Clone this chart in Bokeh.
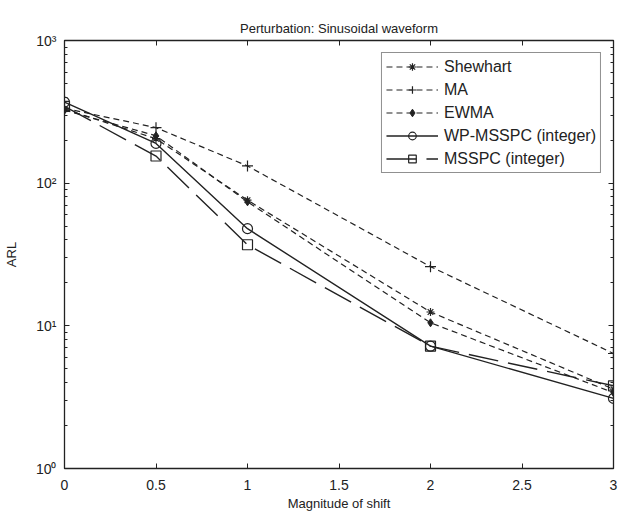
from bokeh.plotting import figure
from bokeh.models import (FixedTicker, LinearAxis, LogAxis, Legend, LegendItem,
                          CustomJSTickFormatter, Range1d)
from bokeh.embed import file_html
from bokeh.resources import INLINE

# ---- data ----
shift = [0, 0.5, 1, 2, 3]
shewhart = [330, 205, 76, 12.5, 3.6]
ma = [335, 245, 132, 26, 6.4]
ewma = [325, 215, 74, 10.5, 3.4]
wp_msspc = [370, 190, 48, 7.2, 3.1]
msspc = [345, 155, 37, 7.2, 3.8]

x_ticks = [0, 0.5, 1, 1.5, 2, 2.5, 3]
y_ticks = [1, 10, 100, 1000]
y_tick_labels = {1: "10\u2070", 10: "10\u00b9", 100: "10\u00b2", 1000: "10\u00b3"}

FONT = "Liberation Sans"
C = "#222222"

p = figure(width=619, height=513, y_axis_type="log",
           x_range=Range1d(0, 3), y_range=Range1d(1, 1000),
           output_backend="svg", toolbar_location=None,
           title="Perturbation: Sinusoidal waveform",
           min_border_left=64, min_border_right=6,
           min_border_top=40, min_border_bottom=43)

p.title.align = "center"
p.title.text_font = FONT
p.title.text_font_size = "13px"
p.title.text_font_style = "normal"
p.title.text_color = C

p.background_fill_color = "white"
p.border_fill_color = "white"
p.outline_line_color = C
p.outline_line_width = 1.3
p.grid.visible = False

minor = [m * 10 ** k for k in range(0, 3) for m in range(2, 10)]

xa = p.xaxis[0]
xa.ticker = FixedTicker(ticks=x_ticks)
xa.formatter = CustomJSTickFormatter(code="return tick.toString();")
xa.axis_label = "Magnitude of shift"

ya = p.yaxis[0]
ya.ticker = FixedTicker(ticks=y_ticks, minor_ticks=minor)
ya.major_label_overrides = y_tick_labels
ya.axis_label = "ARL"

for ax in [xa, ya]:
    ax.axis_label_text_font = FONT
    ax.axis_label_text_font_size = "13px"
    ax.axis_label_text_font_style = "normal"
    ax.major_label_text_font = FONT
    ax.major_label_text_font_size = "14px"
    ax.major_tick_in = 5
    ax.major_tick_out = 0
    ax.minor_tick_in = 3
    ax.minor_tick_out = 0
    ax.axis_line_color = C
    ax.major_tick_line_color = C
    ax.minor_tick_line_color = C
    ax.major_label_text_color = C
    ax.axis_label_text_color = C
xa.major_label_standoff = 11
xa.axis_label_standoff = 3
ya.major_label_standoff = 8
ya.axis_label_standoff = 14

# mirrored axes (box with ticks), labels invisible
top = LinearAxis(ticker=FixedTicker(ticks=x_ticks),
                 major_label_text_alpha=0, major_label_text_font_size="6px",
                 major_label_standoff=0,
                 major_tick_in=5, major_tick_out=0, minor_tick_in=0, minor_tick_out=0,
                 axis_line_color=C, major_tick_line_color=C)
right = LogAxis(ticker=FixedTicker(ticks=y_ticks, minor_ticks=minor),
                major_label_text_alpha=0, major_label_text_font_size="6px",
                major_label_standoff=0,
                major_tick_in=5, major_tick_out=0, minor_tick_in=3, minor_tick_out=0,
                axis_line_color=C, major_tick_line_color=C,
                minor_tick_line_color=C)
p.add_layout(top, "above")
p.add_layout(right, "right")

items = []

l1 = p.line(shift, shewhart, line_color=C, line_width=1.2, line_dash="6 4")
m1 = p.scatter(shift, shewhart, marker="asterisk", size=8, line_color=C, line_width=1.2)
items.append(LegendItem(label="Shewhart", renderers=[l1, m1]))

l2 = p.line(shift, ma, line_color=C, line_width=1.2, line_dash="6 4")
m2 = p.scatter(shift, ma, marker="cross", size=11, line_color=C, line_width=1.2)
items.append(LegendItem(label="MA", renderers=[l2, m2]))

l3 = p.line(shift, ewma, line_color=C, line_width=1.2, line_dash="6 4")
m3 = p.scatter(shift, ewma, marker="diamond", size=8, fill_color=C, line_color=C)
items.append(LegendItem(label="EWMA", renderers=[l3, m3]))

l4 = p.line(shift, wp_msspc, line_color=C, line_width=1.4)
m4 = p.scatter(shift, wp_msspc, marker="circle", size=10, fill_color=None,
               line_color=C, line_width=1.2)
items.append(LegendItem(label="WP-MSSPC (integer)", renderers=[l4, m4]))

l5 = p.line(shift, msspc, line_color=C, line_width=1.4, line_dash="30 10")
m5 = p.scatter(shift, msspc, marker="square", size=10, fill_color=None,
               line_color=C, line_width=1.2)
items.append(LegendItem(label="MSSPC (integer)", renderers=[l5, m5]))

legend = Legend(items=items, location="top_right")
legend.label_text_font = FONT
legend.label_text_font_size = "16px"
legend.label_text_color = C
legend.label_standoff = 6
legend.glyph_width = 52
legend.glyph_height = 19
legend.label_height = 19
legend.spacing = 4
legend.padding = 4
legend.margin = 12
legend.border_line_color = C
legend.border_line_width = 1.2
legend.background_fill_alpha = 1.0
p.add_layout(legend)

open("out.html", "w").write(file_html(p, INLINE))
